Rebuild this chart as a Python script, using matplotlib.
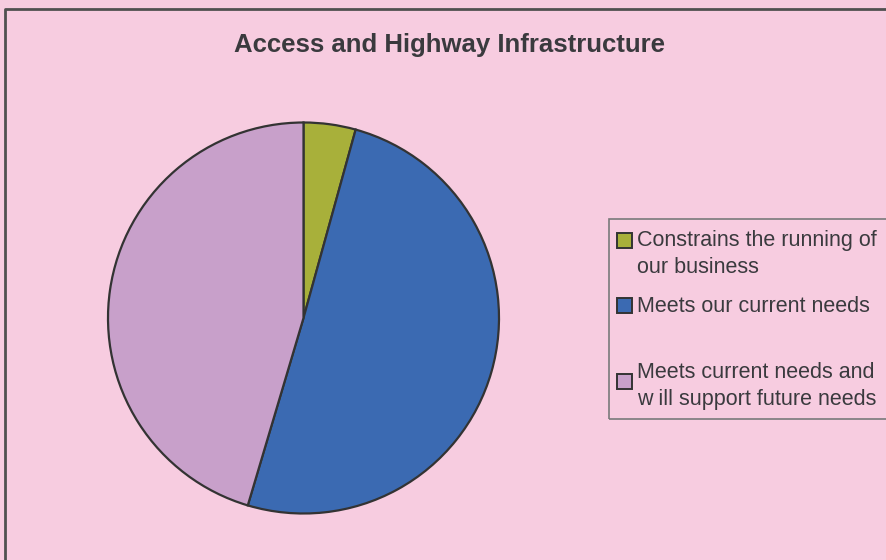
import matplotlib
matplotlib.use('Agg')
import matplotlib.pyplot as plt
from matplotlib.patches import Rectangle
from matplotlib.lines import Line2D

plt.rcParams['font.family'] = ['Liberation Sans', 'DejaVu Sans']

title = 'Access and Highway Infrastructure'
labels = ['Constrains the running of\nour business',
          'Meets our current needs',
          'Meets current needs and\nw ill support future needs']
shares = [4.3, 50.3, 45.4]
colors = ['#A8B03A', '#3B6AB2', '#C8A0CA']

W, H = 886, 560
bg = '#F7CCE0'
txt = '#3A3A3E'

fig = plt.figure(figsize=(W / 100, H / 100), dpi=100)
fig.patch.set_facecolor(bg)

def fx(px):
    return px / W

def fy(py):
    return 1 - py / H

# outer chart border (only left and top are visible)
fig.add_artist(Line2D([fx(5), fx(5), 1.0], [0.0, fy(9), fy(9)],
                      color='#505050', lw=2, transform=fig.transFigure))

# pie
cx, cy, r = 303.5, 318, 195.5
ax = fig.add_axes([fx(cx - r), fy(cy + r), 2 * r / W, 2 * r / H])
ax.pie(shares, colors=colors, startangle=90, counterclock=False,
       wedgeprops=dict(edgecolor='#333333', linewidth=1.6, clip_on=False))
ax.set_xlim(-1, 1)
ax.set_ylim(-1, 1)
ax.set_aspect('equal')
ax.axis('off')

fig.text(fx(450), fy(52), title, ha='center', va='baseline',
         fontsize=18.5, fontweight='bold', color=txt)

# legend
fig.add_artist(Rectangle((fx(609), fy(419)), 1.0, fy(219) - fy(419),
                         facecolor='none', edgecolor='#7A7A7A', lw=1.2,
                         transform=fig.transFigure, clip_on=False))
tops = [233, 298, 374]
bases = [246, 312, 378]
for lab, col, t, b in zip(labels, colors, tops, bases):
    fig.add_artist(Rectangle((fx(617), fy(t + 15)), 15 / W, 15 / H,
                             facecolor=col, edgecolor='#333333', lw=1.4,
                             transform=fig.transFigure))
    for k, line in enumerate(lab.split('\n')):
        fig.text(fx(637), fy(b + 27 * k), line, ha='left', va='baseline',
                 fontsize=15.5, color=txt)

fig.savefig('out.png', dpi=100, facecolor=bg)
